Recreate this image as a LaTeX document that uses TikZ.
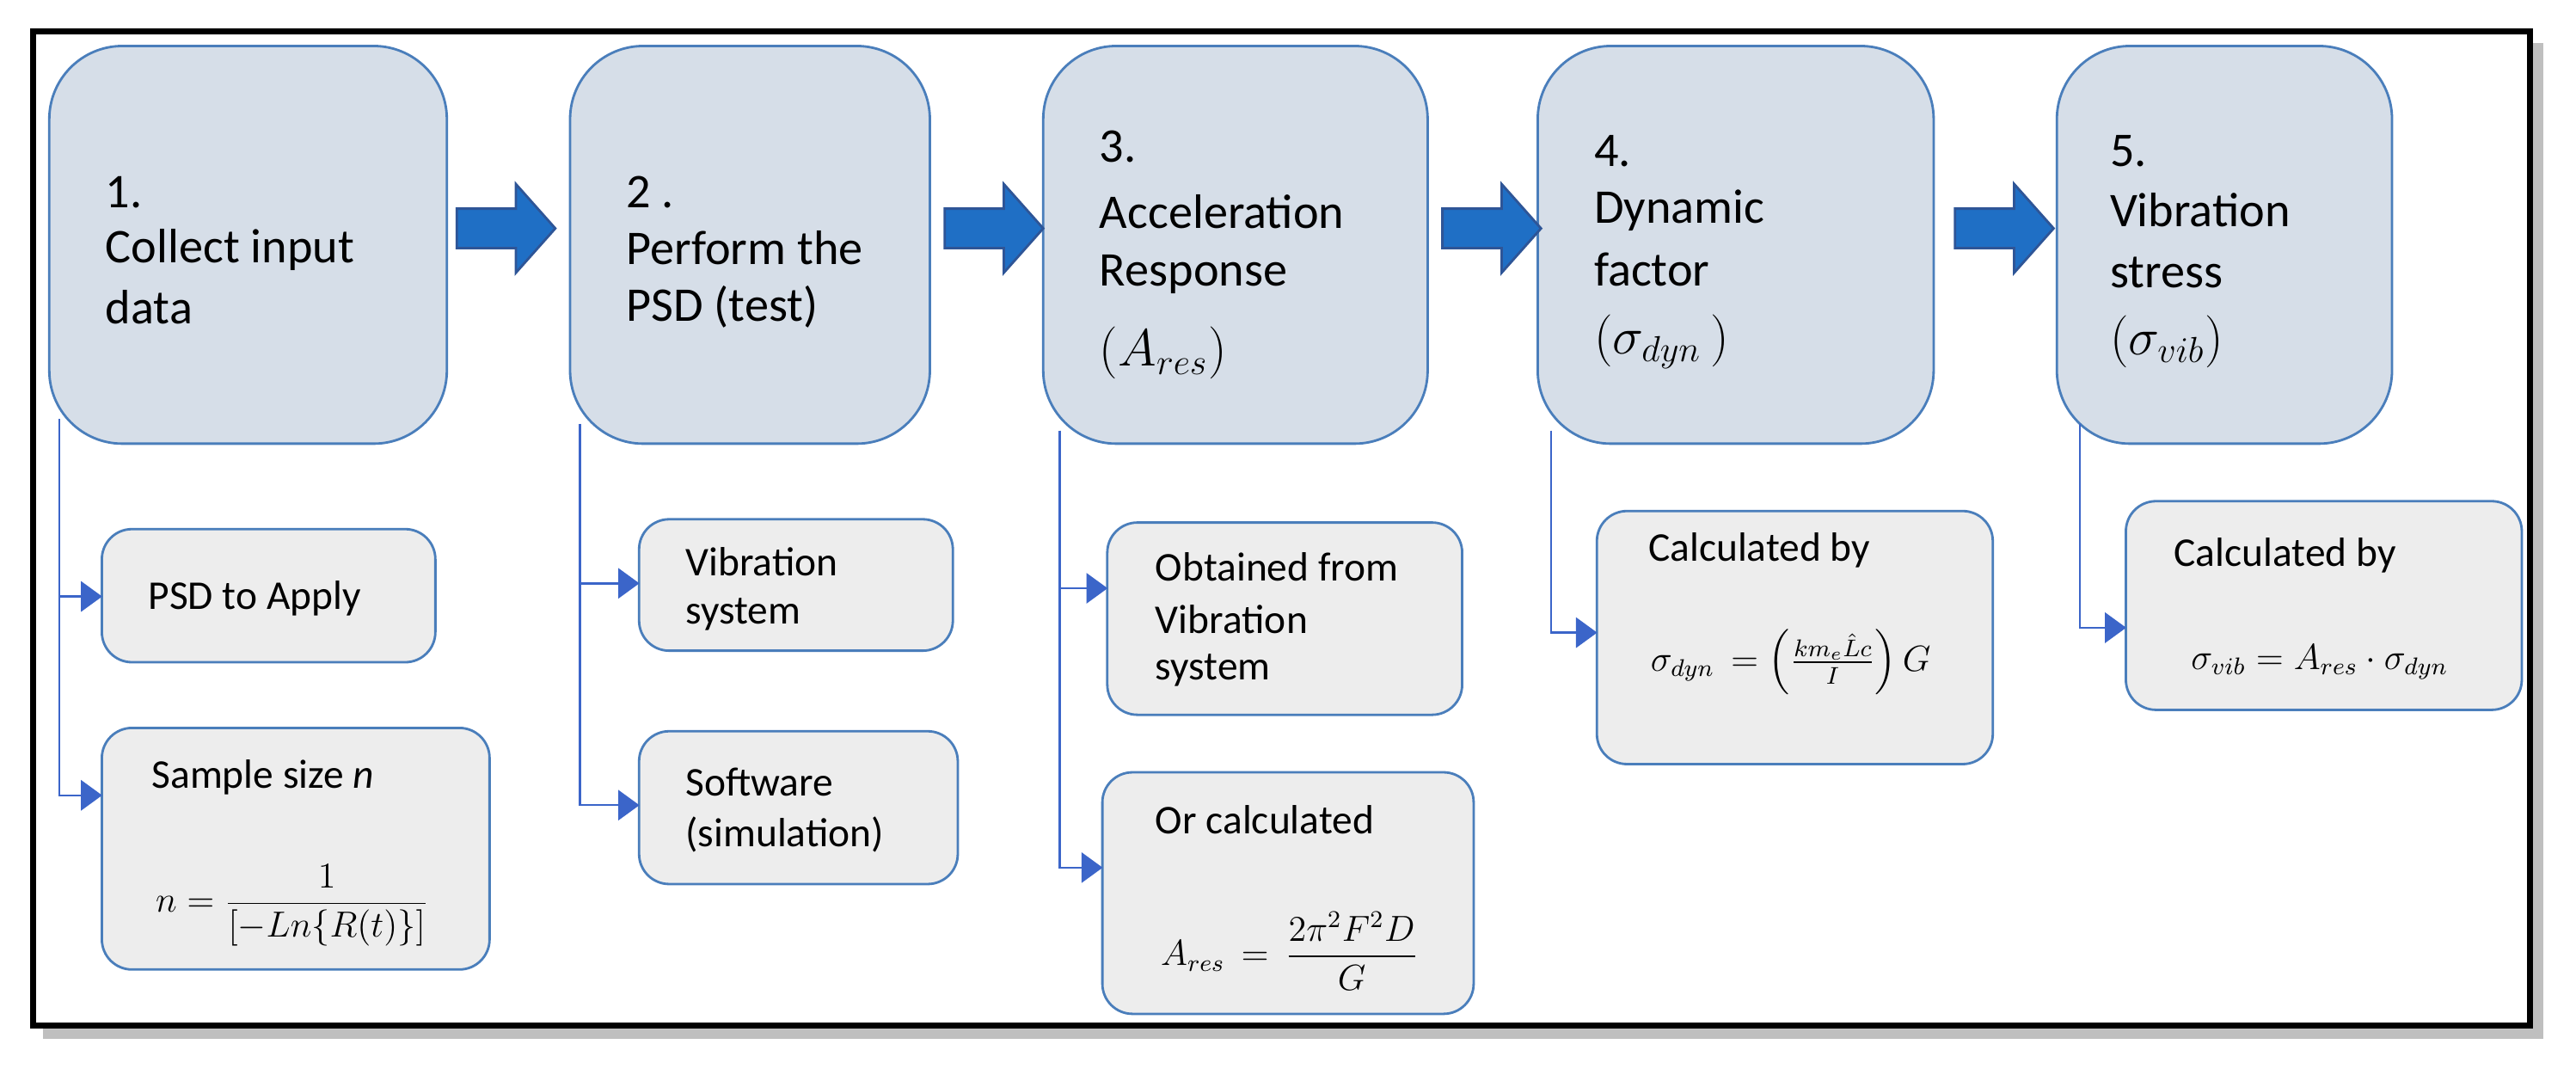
\documentclass[tikz,border=0pt]{standalone}
\usepackage{amsmath}
\usepackage{fontspec}
\setmainfont{Carlito}
\usetikzlibrary{fit,arrows.meta}
\definecolor{topfill}{HTML}{D6DEE8}
\definecolor{subfill}{HTML}{EDEDED}
\definecolor{edge}{HTML}{4A7EBB}
\definecolor{arrfill}{HTML}{1F6FC5}
\definecolor{arredge}{HTML}{2E5597}
\tikzset{
 top/.style={draw=edge, line width=0.8pt, fill=topfill, rounded corners=0.85cm, inner sep=0pt},
 sub/.style={draw=edge, line width=0.8pt, fill=subfill, rounded corners=0.35cm, inner sep=0pt},
 tt/.style={anchor=west, font=\fontsize{16}{19}\selectfont, inner sep=0pt},
 st/.style={anchor=west, font=\fontsize{13.5}{16}\selectfont, inner sep=0pt},
 fm/.style={font=\fontsize{12}{14}\selectfont, inner sep=0pt},
 conn/.style={draw=edge!80!blue, line width=0.7pt, -{Triangle[length=7pt,width=10pt]}, shorten >=-0.5pt},
 bigarrow/.style={fill=arrfill, draw=arredge, line width=0.8pt, line join=miter}
}
\begin{document}
\begin{tikzpicture}[x=0.0191cm,y=-0.0191cm]
\useasboundingbox (0,0) rectangle (1568,654);
% frame with shadow
\fill[black!25] (26,26) rectangle (1548,632);
\fill[white, draw=black, line width=2pt] (20,19) rectangle (1540,624);
% top boxes
\node[top, fit={(30,28)(272,270)}] (b1) {};
\node[top, fit={(347,28)(566,270)}] (b2) {};
\node[top, fit={(635,28)(869,270)}] (b3) {};
\node[top, fit={(936,28)(1177,270)}] (b4) {};
\node[top, fit={(1252,28)(1456,270)}] (b5) {};
% sub boxes
\node[sub, fit={(62,322)(265,403)}] (s1) {};
\node[sub, fit={(62,443)(298,590)}] (s2) {};
\node[sub, fit={(389,316)(580,396)}] (s3) {};
\node[sub, fit={(389,445)(583,538)}] (s4) {};
\node[sub, fit={(674,318)(890,435)}] (s5) {};
\node[sub, fit={(671,470)(897,617)}] (s6) {};
\node[sub, fit={(972,311)(1213,465)}] (s7) {};
\node[sub, fit={(1294,305)(1535,432)}] (s8) {};
% big arrows
\foreach \a in {278,575,878,1190}{
 \draw[bigarrow] (\a,127) -- (\a+36,127) -- (\a+36,112) -- (\a+60,139) -- (\a+36,166) -- (\a+36,151) -- (\a,151) -- cycle;
}
% top texts
\node[tt] (t1a) at (64,117) {1.};
\node[tt] (t1b) at (64,152) {Collect input};
\node[tt] (t1c) at (64,187) {data};
\node[tt] (t2a) at (381,117) {2 .};
\node[tt] (t2b) at (381,151) {Perform the};
\node[tt] (t2c) at (381,187) {PSD (test)};
\node[tt] (t3a) at (669,89) {3.};
\node[tt] (t3b) at (669,129) {Acceleration};
\node[tt] (t3c) at (669,167) {Response};
\node[tt] (t3d) at (669,215) {\fontsize{18}{21}\selectfont$(A_{res})$};
\node[tt] (t4a) at (970,92) {4.};
\node[tt] (t4b) at (970,128) {Dynamic};
\node[tt] (t4c) at (970,164) {factor};
\node[tt] (t4d) at (970,208) {\fontsize{18}{21}\selectfont$(\sigma_{dyn}\,)$};
\node[tt] (t5a) at (1284,92) {5.};
\node[tt] (t5b) at (1284,128) {Vibration};
\node[tt] (t5c) at (1284,166) {stress};
\node[tt] (t5d) at (1284,208) {\fontsize{18}{21}\selectfont$(\sigma_{vib})$};
% sub texts
\node[st] (u1) at (90,364) {PSD to Apply};
\node[st] (u2) at (92,473) {Sample size \textit{n}};
\node[fm] (f2) at (178,551) {$n=\dfrac{1}{[-Ln\{R(t)\}]}$};
\node[st] (u3) at (417,342) {Vibration};
\node[st] (u3b) at (417,374) {system};
\node[st] (u4) at (417,476) {Software};
\node[st] (u4b) at (417,508) {(simulation)};
\node[st] (u5) at (703,345) {Obtained from};
\node[st] (u5b) at (703,377) {Vibration};
\node[st] (u5c) at (703,408) {system};
\node[st] (u6) at (703,499) {Or calculated};
\node[fm] (f6) at (785,579) {$A_{res}\,=\,\dfrac{2\pi^2F^2D}{G}$};
\node[st] (u7) at (1003,335) {Calculated by};
\node[fm] (f7) at (1090,403) {$\sigma_{dyn}\,=\left(\frac{km_e\hat{L}c}{I}\right)G$};
\node[st] (u8) at (1323,338) {Calculated by};
\node[fm] (f8) at (1412,403) {$\sigma_{vib}=A_{res}\cdot\sigma_{dyn}$};
% connectors
\coordinate (c1) at (36,255);
\coordinate (c2) at (353,258);
\coordinate (c3) at (645,262);
\coordinate (c4) at (944,262);
\coordinate (c5) at (1266,258);
\draw[conn] (c1) |- (s1.west |- 0,363);
\draw[conn] (c1) |- (s2.west |- 0,484);
\draw[conn] (c2) |- (s3.west |- 0,355);
\draw[conn] (c2) |- (s4.west |- 0,490);
\draw[conn] (c3) |- (s5.west |- 0,358);
\draw[conn] (c3) |- (s6.west |- 0,528);
\draw[conn] (c4) |- (s7.west |- 0,385);
\draw[conn] (c5) |- (s8.west |- 0,382);
\end{tikzpicture}
\end{document}
